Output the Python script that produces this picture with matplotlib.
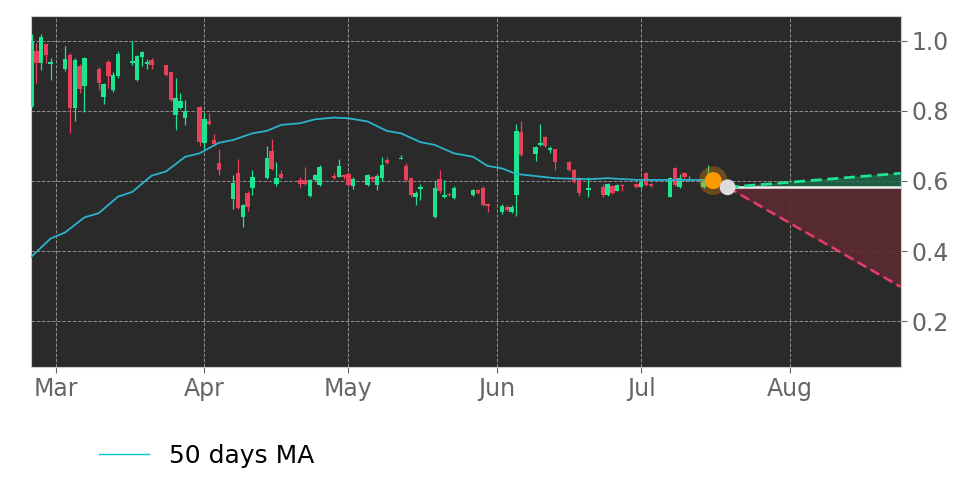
import numpy as np
import pandas as pd
import matplotlib
matplotlib.use("Agg")
import matplotlib.pyplot as plt
import matplotlib.dates as mdates

## candles (daily OHLC)
dates = ["2025-02-24", "2025-02-25", "2025-02-26", "2025-02-27", "2025-02-28",
         "2025-03-03", "2025-03-04", "2025-03-05", "2025-03-06", "2025-03-07",
         "2025-03-10", "2025-03-11", "2025-03-12", "2025-03-13", "2025-03-14",
         "2025-03-17", "2025-03-18", "2025-03-19", "2025-03-20", "2025-03-21",
         "2025-03-24", "2025-03-25", "2025-03-26", "2025-03-27", "2025-03-28",
         "2025-03-31", "2025-04-01", "2025-04-02", "2025-04-03", "2025-04-04",
         "2025-04-07", "2025-04-08", "2025-04-09", "2025-04-10", "2025-04-11",
         "2025-04-14", "2025-04-15", "2025-04-16", "2025-04-17",
         "2025-04-21", "2025-04-22", "2025-04-23", "2025-04-24", "2025-04-25",
         "2025-04-28", "2025-04-29", "2025-04-30", "2025-05-01", "2025-05-02",
         "2025-05-05", "2025-05-06", "2025-05-07", "2025-05-08", "2025-05-09",
         "2025-05-12", "2025-05-13", "2025-05-14", "2025-05-15", "2025-05-16",
         "2025-05-19", "2025-05-20", "2025-05-21", "2025-05-22", "2025-05-23",
         "2025-05-27", "2025-05-28", "2025-05-29", "2025-05-30",
         "2025-06-02", "2025-06-03", "2025-06-04", "2025-06-05", "2025-06-06",
         "2025-06-09", "2025-06-10", "2025-06-11", "2025-06-12", "2025-06-13",
         "2025-06-16", "2025-06-17", "2025-06-18", "2025-06-20",
         "2025-06-23", "2025-06-24", "2025-06-25", "2025-06-26", "2025-06-27",
         "2025-06-30", "2025-07-01", "2025-07-02", "2025-07-03",
         "2025-07-07", "2025-07-08", "2025-07-09", "2025-07-10", "2025-07-11",
         "2025-07-14", "2025-07-15"]
opens = [0.814, 0.972, 0.938, 0.991, 0.935,
         0.920, 0.960, 0.808, 0.927, 0.870,
         0.920, 0.841, 0.940, 0.860, 0.900,
         0.937, 0.887, 0.953, 0.935, 0.946,
         0.931, 0.911, 0.789, 0.808, 0.780,
         0.812, 0.709, 0.770, 0.717, 0.651,
         0.549, 0.623, 0.497, 0.567, 0.581,
         0.609, 0.687, 0.591, 0.620,
         0.603, 0.603, 0.558, 0.603, 0.589,
         0.614, 0.612, 0.617, 0.619, 0.586,
         0.589, 0.611, 0.589, 0.608, 0.660,
         0.663, 0.644, 0.608, 0.555, 0.577,
         0.498, 0.605, 0.554, 0.563, 0.551,
         0.560, 0.575, 0.580, 0.534,
         0.510, 0.527, 0.510, 0.560, 0.741,
         0.677, 0.703, 0.725, 0.688, 0.690,
         0.655, 0.631, 0.608, 0.574,
         0.582, 0.560, 0.585, 0.572, 0.589,
         0.591, 0.582, 0.622, 0.592,
         0.555, 0.637, 0.583, 0.622, 0.603,
         0.582, 0.595]
highs = [1.020, 0.994, 1.020, 0.995, 0.950,
         0.986, 0.965, 0.950, 0.935, 0.955,
         0.925, 0.880, 0.945, 0.912, 0.970,
         1.000, 0.960, 0.970, 0.947, 0.950,
         0.932, 0.912, 0.894, 0.850, 0.830,
         0.815, 0.795, 0.795, 0.735, 0.690,
         0.617, 0.663, 0.535, 0.570, 0.630,
         0.700, 0.720, 0.653, 0.630,
         0.610, 0.640, 0.605, 0.620, 0.645,
         0.624, 0.663, 0.620, 0.625, 0.610,
         0.620, 0.613, 0.620, 0.669, 0.669,
         0.674, 0.650, 0.610, 0.570, 0.590,
         0.600, 0.630, 0.603, 0.566, 0.585,
         0.578, 0.578, 0.585, 0.536,
         0.533, 0.530, 0.530, 0.763, 0.770,
         0.700, 0.764, 0.728, 0.700, 0.692,
         0.658, 0.633, 0.610, 0.610,
         0.590, 0.595, 0.588, 0.592, 0.590,
         0.594, 0.600, 0.625, 0.595,
         0.612, 0.640, 0.620, 0.625, 0.615,
         0.600, 0.646]
lows = [0.810, 0.880, 0.917, 0.937, 0.887,
        0.915, 0.737, 0.770, 0.850, 0.798,
        0.860, 0.820, 0.865, 0.855, 0.895,
        0.930, 0.885, 0.927, 0.920, 0.920,
        0.900, 0.828, 0.746, 0.805, 0.760,
        0.700, 0.690, 0.760, 0.700, 0.617,
        0.520, 0.520, 0.469, 0.514, 0.559,
        0.605, 0.630, 0.585, 0.605,
        0.580, 0.588, 0.555, 0.600, 0.585,
        0.605, 0.610, 0.605, 0.585, 0.577,
        0.585, 0.600, 0.575, 0.600, 0.648,
        0.663, 0.600, 0.555, 0.531, 0.546,
        0.495, 0.565, 0.550, 0.556, 0.548,
        0.558, 0.562, 0.528, 0.511,
        0.505, 0.515, 0.508, 0.500, 0.670,
        0.657, 0.700, 0.698, 0.680, 0.630,
        0.628, 0.595, 0.558, 0.555,
        0.555, 0.556, 0.562, 0.570, 0.572,
        0.580, 0.580, 0.586, 0.582,
        0.553, 0.585, 0.580, 0.600, 0.600,
        0.580, 0.590]
closes = [1.000, 0.938, 1.012, 0.960, 0.940,
          0.949, 0.808, 0.946, 0.862, 0.952,
          0.880, 0.877, 0.900, 0.903, 0.963,
          0.943, 0.957, 0.969, 0.940, 0.930,
          0.903, 0.830, 0.837, 0.829, 0.800,
          0.712, 0.777, 0.762, 0.706, 0.630,
          0.594, 0.523, 0.531, 0.527, 0.612,
          0.666, 0.634, 0.609, 0.609,
          0.591, 0.591, 0.603, 0.617, 0.641,
          0.609, 0.643, 0.611, 0.589, 0.606,
          0.617, 0.606, 0.614, 0.646, 0.651,
          0.666, 0.603, 0.560, 0.565, 0.584,
          0.580, 0.570, 0.560, 0.560, 0.580,
          0.574, 0.565, 0.531, 0.529,
          0.529, 0.517, 0.527, 0.744, 0.674,
          0.698, 0.709, 0.700, 0.695, 0.655,
          0.630, 0.598, 0.565, 0.579,
          0.560, 0.591, 0.565, 0.589, 0.585,
          0.582, 0.598, 0.589, 0.585,
          0.609, 0.589, 0.609, 0.612, 0.607,
          0.598, 0.605]

## 50 days moving average
ma_dates = ["2025-02-24", "2025-02-28", "2025-03-03", "2025-03-07", "2025-03-10",
            "2025-03-14", "2025-03-17", "2025-03-21", "2025-03-24", "2025-03-28",
            "2025-03-31", "2025-04-04", "2025-04-07", "2025-04-11", "2025-04-14",
            "2025-04-17", "2025-04-21", "2025-04-24", "2025-04-28", "2025-05-01",
            "2025-05-05", "2025-05-09", "2025-05-12", "2025-05-16", "2025-05-19",
            "2025-05-23", "2025-05-27", "2025-05-30", "2025-06-02", "2025-06-05",
            "2025-06-09", "2025-06-13", "2025-06-20", "2025-06-24", "2025-06-30",
            "2025-07-03", "2025-07-15"]
ma_vals = [0.384, 0.436, 0.453, 0.496, 0.508,
           0.555, 0.569, 0.615, 0.627, 0.669,
           0.679, 0.709, 0.717, 0.736, 0.743,
           0.760, 0.765, 0.776, 0.781, 0.779,
           0.770, 0.743, 0.736, 0.711, 0.703,
           0.679, 0.669, 0.643, 0.636, 0.620,
           0.614, 0.608, 0.605, 0.608, 0.603,
           0.603, 0.603]

## last price and projection
last_date = "2025-07-16"
last_price = 0.601
proj_start = "2025-07-19"
proj_end = "2025-08-24"
proj_base = 0.582
proj_up = 0.622
proj_down = 0.298

bg = '#2a2a2a'
green = '#1ee38f'
red = '#e8405a'

d = pd.to_datetime(dates)
o = np.array(opens)
h = np.array(highs)
l = np.array(lows)
c = np.array(closes)
up = c >= o

fig = plt.figure(figsize=(9.72, 4.86), dpi=100)
ax = fig.add_axes([0.032, 0.245, 0.895, 0.722])
ax.set_facecolor(bg)

w = 0.92
colors = np.where(up, green, red)
ax.vlines(d, l, h, colors=colors, lw=0.9, zorder=3)
ax.bar(d, np.maximum(np.abs(c - o), 0.004), bottom=np.minimum(o, c), width=w,
       color=colors, edgecolor='none', zorder=4)

ax.plot(pd.to_datetime(ma_dates), ma_vals, color='#2ab3cc', lw=1.3, zorder=5,
        label='50 days MA')

ps, pe = pd.to_datetime(proj_start), pd.to_datetime(proj_end)
ax.fill_between([ps, pe], [proj_base, proj_base], [proj_base, proj_up],
                color='#1f6b4c', alpha=0.8, zorder=2)
ax.fill_between([ps, pe], [proj_base, proj_base], [proj_base, proj_down],
                color='#5c2a31', alpha=0.9, zorder=2)
ax.plot([ps, pe], [proj_base, proj_base], color='#f0f0f0', lw=1.8, zorder=6)
ax.plot([ps, pe], [proj_base, proj_up], color=green, lw=2, ls=(0, (4, 2)), zorder=6)
ax.plot([ps, pe], [proj_base, proj_down], color='#e83d6a', lw=1.8, ls=(0, (4, 2)), zorder=6)

ld = pd.to_datetime(last_date)
ax.scatter([ld], [last_price], s=420, color='#ff9900', alpha=0.3, edgecolors='none', zorder=7)
ax.scatter([ld], [last_price], s=150, color='#ff9900', edgecolors='none', zorder=8)
ax.scatter([ps], [proj_base], s=130, color='#dcdcdc', edgecolors='none', zorder=8)

ax.set_xlim(pd.to_datetime("2025-02-23 22:00"), pd.to_datetime("2025-08-24 03:00"))
ax.set_ylim(0.069, 1.071)

ax.xaxis.set_major_locator(mdates.MonthLocator())
ax.xaxis.set_major_formatter(mdates.DateFormatter('%b'))
ax.set_yticks([0.2, 0.4, 0.6, 0.8, 1.0])
ax.yaxis.set_major_formatter(plt.FormatStrFormatter('%.1f'))
ax.yaxis.tick_right()
ax.tick_params(axis='both', colors='#666666', labelsize=17, length=4, width=0.8)
ax.grid(True, color='#bbbbbb', ls='--', lw=0.7, alpha=0.7)
ax.set_axisbelow(True)
for s in ax.spines.values():
    s.set_color('#cccccc')
    s.set_linewidth(0.8)

leg_line = plt.Line2D([], [], color='#00c8e0', lw=1)
fig.legend([leg_line], ['50 days MA'], loc='center left', bbox_to_anchor=(0.079, 0.062),
           frameon=False, fontsize=18, handlelength=2.0)

fig.savefig('out.png', dpi=100, facecolor='white')
